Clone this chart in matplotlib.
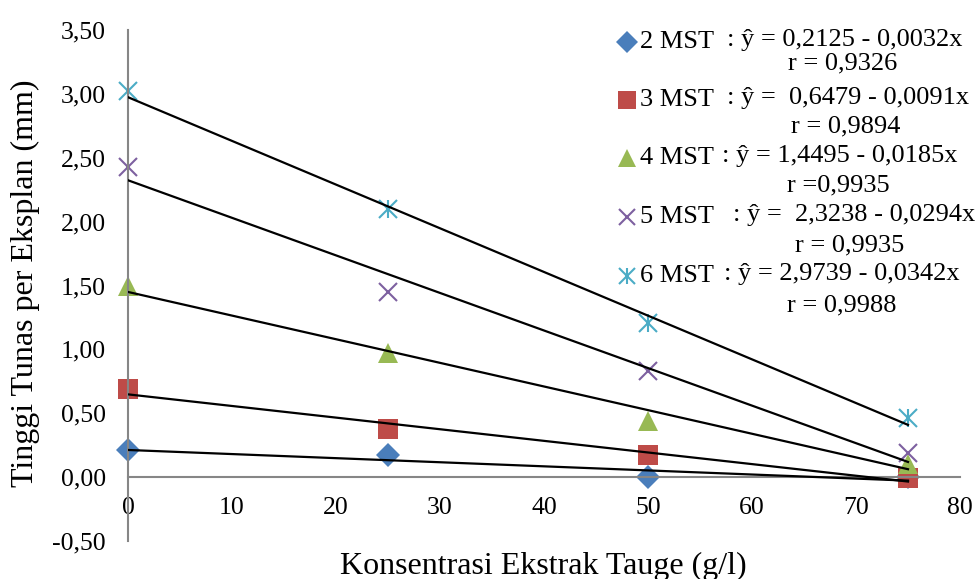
import numpy as np
import matplotlib.pyplot as plt
from matplotlib.ticker import FuncFormatter, MultipleLocator

plt.rcParams['font.family'] = ['Liberation Serif', 'DejaVu Serif']

# Concentration of sprout extract (g/l)
konsentrasi = [0, 25, 50, 75]
# Shoot height per explant (mm) for each week after planting
series = ['2 MST', '3 MST', '4 MST', '5 MST', '6 MST']
tinggi_2 = [0.21, 0.17, 0.00, 0.00]
tinggi_3 = [0.69, 0.38, 0.17, -0.01]
tinggi_4 = [1.50, 0.97, 0.44, 0.10]
tinggi_5 = [2.43, 1.45, 0.83, 0.19]
tinggi_6 = [3.02, 2.10, 1.21, 0.46]
# Regression lines, as printed in the legend
intercept = [0.2125, 0.6479, 1.4495, 2.3238, 2.9739]
slope = [-0.0032, -0.0091, -0.0185, -0.0294, -0.0342]
eq_text = [': ŷ = 0,2125 - 0,0032x', ': ŷ =  0,6479 - 0,0091x', ': ŷ = 1,4495 - 0,0185x',
           ': ŷ =  2,3238 - 0,0294x', ': ŷ = 2,9739 - 0,0342x']
r_text = ['r = 0,9326', 'r = 0,9894', 'r =0,9935', 'r = 0,9935', 'r = 0,9988']

data = [tinggi_2, tinggi_3, tinggi_4, tinggi_5, tinggi_6]
colors = ['#4A7EBB', '#BE4B48', '#98B954', '#7D60A0', '#4BACC6']
markers = ['D', 's', '^', 'x', 'x']
sizes = [12, 14, 15, 13, 13]

W, H = 978, 579
fig = plt.figure(figsize=(W / 100, H / 100), dpi=100)
ax = fig.add_axes([128 / W, 1 - 541 / H, (960 - 128) / W, (541 - 30) / H])
ax.set_xlim(0, 80)
ax.set_ylim(-0.5, 3.5)

xs = np.array([0, 75])
for i in range(5):
    ax.plot(xs, intercept[i] + slope[i] * xs, color='black', lw=1.6, zorder=3)

for i in range(5):
    mew = 1.5 if markers[i] == 'x' else 0
    ax.plot(konsentrasi, data[i], linestyle='none', marker=markers[i], ms=sizes[i],
            color=colors[i], mew=mew, clip_on=False, zorder=2)
    if i == 4:
        ax.plot(konsentrasi, data[i], linestyle='none', marker='|', ms=sizes[i],
                color=colors[i], mew=1.5, clip_on=False, zorder=2)

for s in ['top', 'right']:
    ax.spines[s].set_visible(False)
ax.spines['bottom'].set_position(('data', 0))
for s in ['left', 'bottom']:
    ax.spines[s].set_color('#868686')
    ax.spines[s].set_linewidth(1.5)

ax.xaxis.set_major_locator(MultipleLocator(10))
ax.yaxis.set_major_locator(MultipleLocator(0.5))
ax.yaxis.set_major_formatter(FuncFormatter(lambda v, p: f'{v:.2f}'.replace('.', ',')))
ax.tick_params(axis='both', length=0, labelsize=18.5)
ax.tick_params(axis='y', pad=16)
ax.tick_params(axis='x', pad=14)

fig.text(543 / W, 1 - 566 / H, 'Konsentrasi Ekstrak Tauge (g/l)', ha='center', va='center', fontsize=23)
fig.text(25 / W, 1 - 283 / H, 'Tinggi Tunas per Eksplan (mm)', ha='center', va='center',
         rotation=90, fontsize=23)

# Hand-made legend with equations
row_y = [42, 100, 158, 217, 276]
r_y = [63, 126, 185, 245, 305]
eq_x = [727, 727, 722, 733, 724]
r_x = [843, 846, 838, 850, 842]
for i in range(5):
    yy = 1 - row_y[i] / H
    mew = 1.5 if markers[i] == 'x' else 0
    fig.lines.append(plt.Line2D([627 / W], [yy], marker=markers[i], ms=sizes[i] * 0.9,
                                color=colors[i], mew=mew, linestyle='none', transform=fig.transFigure))
    if i == 4:
        fig.lines.append(plt.Line2D([627 / W], [yy], marker='|', ms=sizes[i] * 0.9,
                                    color=colors[i], mew=1.5, linestyle='none', transform=fig.transFigure))
    fig.text(640 / W, yy, series[i], ha='left', va='center', fontsize=19)
    fig.text(eq_x[i] / W, yy + 0.004, eq_text[i], ha='left', va='center', fontsize=19)
    fig.text(r_x[i] / W, 1 - r_y[i] / H, r_text[i], ha='center', va='center', fontsize=19)

fig.savefig('out.png', dpi=100)
